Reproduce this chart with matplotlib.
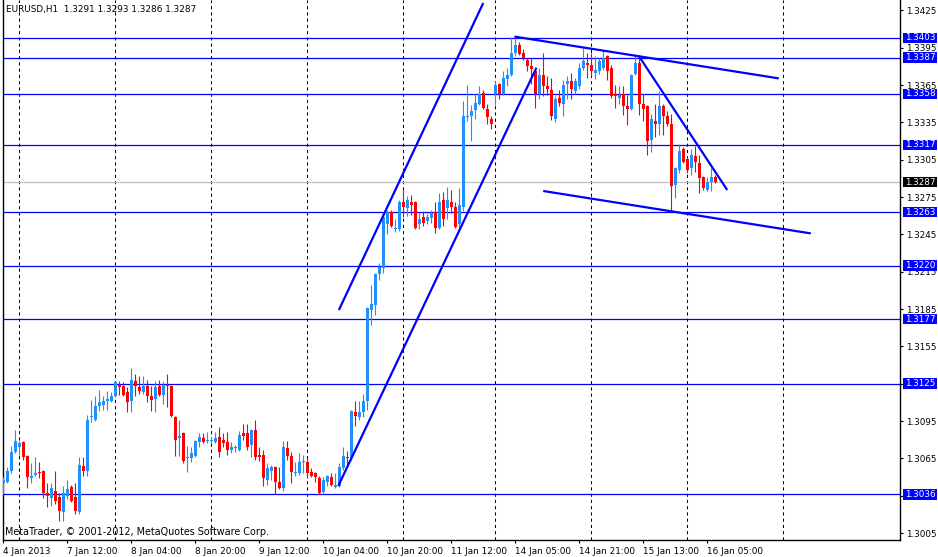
import numpy as np
import matplotlib
matplotlib.use("Agg")
import matplotlib.pyplot as plt
from matplotlib.patches import Rectangle
import matplotlib.transforms as mtransforms

# ---------------- data ----------------
opens = [1.3045,1.3046,1.3055,1.3070,1.3074,1.3078,1.3067,1.3049,1.3052,1.3054,
         1.3055,1.3037,1.3033,1.3039,1.3034,1.3022,1.3035,1.3042,1.3034,1.3022,
         1.3059,1.3055,1.3098,1.3096,1.3107,1.3108,1.3111,1.3111,1.3115,1.3124,
         1.3123,1.3118,1.3111,1.3127,1.3122,1.3118,1.3123,1.3115,1.3113,1.3123,
         1.3116,1.3124,1.3123,1.3098,1.3081,1.3085,1.3065,1.3065,1.3067,1.3078,
         1.3081,1.3079,1.3079,1.3078,1.3082,1.3080,1.3078,1.3072,1.3073,1.3072,
         1.3085,1.3085,1.3076,1.3088,1.3068,1.3068,1.3048,1.3055,1.3058,1.3046,
         1.3041,1.3073,1.3067,1.3053,1.3053,1.3062,1.3062,1.3054,1.3053,1.3049,
         1.3038,1.3046,1.3050,1.3042,1.3043,1.3057,1.3066,1.3065,1.3102,1.3098,
         1.3102,1.3111,1.3184,1.3188,1.3213,1.3218,1.3253,1.3263,1.3249,1.3249,
         1.3271,1.3266,1.3271,1.3271,1.3253,1.3259,1.3256,1.3258,1.3263,1.3250,
         1.3273,1.3266,1.3271,1.3267,1.3253,1.3267,1.3339,1.3340,1.3345,1.3350,
         1.3359,1.3346,1.3338,1.3358,1.3366,1.3358,1.3370,1.3373,1.3391,1.3397,
         1.3391,1.3385,1.3380,1.3376,1.3358,1.3373,1.3364,1.3361,1.3338,1.3355,
         1.3350,1.3366,1.3368,1.3360,1.3364,1.3379,1.3383,1.3381,1.3375,1.3376,
         1.3379,1.3388,1.3379,1.3358,1.3355,1.3358,1.3348,1.3346,1.3374,1.3383,
         1.3350,1.3348,1.3321,1.3336,1.3334,1.3348,1.3340,1.3334,1.3285,1.3297,
         1.3314,1.3306,1.3298,1.3308,1.3302,1.3291,1.3281,1.3287,1.3291]
highs = [1.3050,1.3058,1.3075,1.3088,1.3079,1.3079,1.3068,1.3061,1.3066,1.3062,
         1.3056,1.3045,1.3045,1.3055,1.3037,1.3043,1.3048,1.3044,1.3045,1.3066,
         1.3066,1.3100,1.3112,1.3115,1.3120,1.3115,1.3119,1.3118,1.3127,1.3127,
         1.3126,1.3122,1.3138,1.3133,1.3131,1.3131,1.3128,1.3123,1.3127,1.3128,
         1.3127,1.3133,1.3124,1.3099,1.3096,1.3086,1.3075,1.3074,1.3080,1.3085,
         1.3085,1.3086,1.3082,1.3086,1.3090,1.3085,1.3086,1.3078,1.3076,1.3087,
         1.3093,1.3093,1.3089,1.3096,1.3074,1.3072,1.3061,1.3060,1.3059,1.3058,
         1.3079,1.3079,1.3070,1.3062,1.3069,1.3068,1.3065,1.3057,1.3054,1.3051,
         1.3050,1.3052,1.3053,1.3053,1.3061,1.3074,1.3071,1.3104,1.3111,1.3111,
         1.3117,1.3187,1.3204,1.3214,1.3222,1.3263,1.3265,1.3265,1.3257,1.3273,
         1.3281,1.3276,1.3277,1.3272,1.3262,1.3263,1.3262,1.3265,1.3271,1.3278,
         1.3279,1.3283,1.3281,1.3271,1.3282,1.3352,1.3365,1.3349,1.3358,1.3364,
         1.3361,1.3350,1.3340,1.3368,1.3367,1.3376,1.3379,1.3404,1.3404,1.3400,
         1.3394,1.3387,1.3387,1.3379,1.3379,1.3391,1.3372,1.3371,1.3356,1.3361,
         1.3369,1.3372,1.3375,1.3371,1.3383,1.3395,1.3391,1.3391,1.3388,1.3387,
         1.3393,1.3389,1.3381,1.3365,1.3364,1.3364,1.3357,1.3374,1.3390,1.3389,
         1.3358,1.3349,1.3342,1.3350,1.3360,1.3350,1.3344,1.3342,1.3299,1.3318,
         1.3315,1.3307,1.3314,1.3316,1.3309,1.3292,1.3291,1.3298,1.3293]
lows  = [1.3036,1.3045,1.3053,1.3069,1.3068,1.3064,1.3041,1.3045,1.3051,1.3049,
         1.3033,1.3026,1.3027,1.3028,1.3015,1.3015,1.3032,1.3030,1.3020,1.3020,
         1.3051,1.3051,1.3094,1.3095,1.3103,1.3104,1.3104,1.3110,1.3114,1.3116,
         1.3115,1.3102,1.3102,1.3115,1.3117,1.3117,1.3110,1.3103,1.3102,1.3115,
         1.3109,1.3106,1.3098,1.3067,1.3067,1.3061,1.3054,1.3062,1.3066,1.3074,
         1.3077,1.3077,1.3077,1.3077,1.3066,1.3074,1.3068,1.3069,1.3070,1.3071,
         1.3080,1.3072,1.3066,1.3064,1.3063,1.3043,1.3044,1.3048,1.3036,1.3040,
         1.3039,1.3064,1.3045,1.3051,1.3052,1.3053,1.3049,1.3050,1.3046,1.3036,
         1.3036,1.3043,1.3043,1.3041,1.3042,1.3056,1.3058,1.3064,1.3091,1.3096,
         1.3098,1.3104,1.3172,1.3180,1.3208,1.3214,1.3245,1.3251,1.3247,1.3248,
         1.3259,1.3260,1.3261,1.3249,1.3249,1.3252,1.3253,1.3254,1.3246,1.3249,
         1.3252,1.3257,1.3262,1.3250,1.3251,1.3264,1.3336,1.3320,1.3338,1.3349,
         1.3346,1.3334,1.3330,1.3349,1.3354,1.3357,1.3364,1.3372,1.3388,1.3389,
         1.3385,1.3376,1.3366,1.3347,1.3354,1.3356,1.3357,1.3337,1.3335,1.3348,
         1.3340,1.3354,1.3354,1.3358,1.3362,1.3377,1.3371,1.3372,1.3370,1.3374,
         1.3377,1.3369,1.3355,1.3347,1.3350,1.3341,1.3333,1.3345,1.3373,1.3341,
         1.3336,1.3309,1.3311,1.3323,1.3325,1.3325,1.3332,1.3263,1.3274,1.3294,
         1.3302,1.3294,1.3293,1.3295,1.3278,1.3281,1.3280,1.3280,1.3286]
closes = [1.3048,1.3055,1.3070,1.3079,1.3077,1.3066,1.3050,1.3051,1.3053,1.3053,
          1.3037,1.3035,1.3041,1.3031,1.3023,1.3037,1.3040,1.3031,1.3023,1.3060,
          1.3055,1.3096,1.3099,1.3107,1.3110,1.3111,1.3113,1.3115,1.3126,1.3122,
          1.3116,1.3110,1.3128,1.3123,1.3119,1.3123,1.3115,1.3112,1.3122,1.3116,
          1.3124,1.3123,1.3099,1.3080,1.3083,1.3063,1.3066,1.3069,1.3079,1.3082,
          1.3078,1.3080,1.3080,1.3081,1.3070,1.3077,1.3072,1.3074,1.3074,1.3084,
          1.3083,1.3074,1.3088,1.3066,1.3066,1.3049,1.3057,1.3058,1.3046,1.3041,
          1.3074,1.3067,1.3054,1.3054,1.3062,1.3063,1.3053,1.3051,1.3050,1.3037,
          1.3048,1.3051,1.3044,1.3044,1.3058,1.3067,1.3065,1.3103,1.3099,1.3102,
          1.3111,1.3186,1.3189,1.3213,1.3219,1.3259,1.3263,1.3252,1.3250,1.3271,
          1.3267,1.3273,1.3269,1.3250,1.3257,1.3254,1.3259,1.3262,1.3250,1.3271,
          1.3257,1.3273,1.3267,1.3251,1.3269,1.3340,1.3340,1.3344,1.3351,1.3358,
          1.3347,1.3339,1.3334,1.3365,1.3358,1.3371,1.3373,1.3391,1.3397,1.3390,
          1.3387,1.3380,1.3378,1.3358,1.3373,1.3364,1.3362,1.3340,1.3354,1.3351,
          1.3365,1.3368,1.3362,1.3368,1.3379,1.3384,1.3381,1.3376,1.3377,1.3384,
          1.3387,1.3376,1.3356,1.3356,1.3357,1.3348,1.3346,1.3373,1.3383,1.3350,
          1.3346,1.3320,1.3338,1.3334,1.3348,1.3340,1.3334,1.3284,1.3298,1.3312,
          1.3303,1.3297,1.3309,1.3303,1.3290,1.3282,1.3287,1.3291,1.3287]

time_ticks = [0, 16, 32, 48, 64, 80, 96, 112, 128, 144, 160, 176]
time_labels = ["4 Jan 2013", "7 Jan 12:00", "8 Jan 04:00", "8 Jan 20:00",
               "9 Jan 12:00", "10 Jan 04:00", "10 Jan 20:00", "11 Jan 12:00",
               "14 Jan 05:00", "14 Jan 21:00", "15 Jan 13:00", "16 Jan 05:00"]
grid_bars = [4, 28, 52, 76, 100, 123, 147, 171, 195]

price_ticks = [1.3425, 1.3395, 1.3365, 1.3335, 1.3305, 1.3275, 1.3245, 1.3215,
               1.3185, 1.3155, 1.3125, 1.3095, 1.3065, 1.3035, 1.3005]
levels = [1.3403, 1.3387, 1.3358, 1.3317, 1.3263, 1.3220, 1.3177, 1.3125, 1.3036]
last_price = 1.3287

# trend lines: (bar0, price0, bar1, price1)
trend_lines = [
    (83.75, 1.30428, 133.3, 1.33790),
    (83.9, 1.31842, 120.0, 1.34310),
    (127.8, 1.34040, 193.9, 1.33704),
    (159.0, 1.33879, 181.0, 1.32807),
    (135.0, 1.32799, 201.9, 1.32458),
]

header = "EURUSD,H1  1.3291 1.3293 1.3286 1.3287"
footer = "MetaTrader, \u00a9 2001-2012, MetaQuotes Software Corp."

# ---------------- figure ----------------
W, H = 938, 557
plt.rcParams['font.family'] = ['DejaVu Sans']
FS = 6.4
FS_NUM = 6.3
fig = plt.figure(figsize=(W / 100, H / 100), dpi=100)
fig.patch.set_facecolor('white')
ax = fig.add_axes([3 / W, 17 / H, 897 / W, 540 / H])
ax.set_facecolor('white')

ax.set_xlim(-0.075, 224.2)
ax.set_ylim(1.29994, 1.34334)

BULL = '#1E90FF'
BEAR = '#FF0000'
LBLUE = '#0000FF'

o = np.array(opens); h = np.array(highs); l = np.array(lows); c = np.array(closes)
x = np.arange(len(o))
cols = [BULL if cc >= oo else BEAR for oo, cc in zip(o, c)]

# grid
for gb in grid_bars:
    ax.axvline(gb, color='black', lw=0.75, dashes=(3, 3), zorder=1)

# levels
for lv in levels:
    ax.axhline(lv, color=LBLUE, lw=0.9, zorder=2)
ax.axhline(last_price, color='#C0C0C0', lw=0.9, zorder=2)

# candles
ax.vlines(x, l, h, colors=cols, lw=0.8, zorder=3)
body_lo = np.minimum(o, c)
body_h = np.maximum(np.abs(c - o), 0.00009)
ax.bar(x, body_h, bottom=body_lo, width=0.7, color=cols, linewidth=0,
       zorder=4, antialiased=False)

# trend lines
for (b0, p0, b1, p1) in trend_lines:
    ax.plot([b0, b1], [p0, p1], color=LBLUE, lw=1.6, zorder=5, solid_capstyle='butt')

# axes styling
ax.spines['top'].set_visible(False)
for s in ['left', 'right', 'bottom']:
    ax.spines[s].set_color('black')
    ax.spines[s].set_linewidth(1.0)

covered = [1.3125, 1.3035]
ax.yaxis.tick_right()
ax.set_yticks(price_ticks)
ax.set_yticklabels(["" if any(abs(p - q) < 1e-6 for q in covered) else f"{p:.4f}"
                    for p in price_ticks])
ax.tick_params(axis='y', direction='out', length=2.5, width=0.8, pad=2.2,
               labelsize=FS_NUM, colors='black')
ax.set_xticks(time_ticks)
ax.set_xticklabels(time_labels)
ax.tick_params(axis='x', direction='out', length=2.5, width=0.8, pad=2.2,
               labelsize=FS, colors='black')
for lab in ax.get_xticklabels():
    lab.set_horizontalalignment('left')

# price label boxes
trans = mtransforms.blended_transform_factory(ax.transAxes, ax.transData)
bx0 = (903 - 3) / 897
bw = (937 - 903) / 897
bh = 10.5 / 12440
for lv in levels:
    ax.add_patch(Rectangle((bx0, lv - bh / 2), bw, bh, transform=trans,
                           facecolor=LBLUE, edgecolor='none', clip_on=False, zorder=10))
    ax.text((905.5 - 3) / 897, lv, f"{lv:.4f}", transform=trans, color='white',
            fontsize=FS_NUM, ha='left', va='center', clip_on=False, zorder=11)
ax.add_patch(Rectangle((bx0, last_price - bh / 2), bw, bh, transform=trans,
                       facecolor='black', edgecolor='none', clip_on=False, zorder=10))
ax.text((905.5 - 3) / 897, last_price, f"{last_price:.4f}", transform=trans, color='white',
        fontsize=FS_NUM, ha='left', va='center', clip_on=False, zorder=11)

# header / footer
fig.text(6 / W, 1 - 9.5 / H, header, fontsize=FS, ha='left', va='center', color='black')
fig.text(5 / W, 1 - 532 / H, footer, fontsize=6.9, ha='left', va='center', color='black')

fig.savefig('out.png', dpi=100, facecolor='white')
